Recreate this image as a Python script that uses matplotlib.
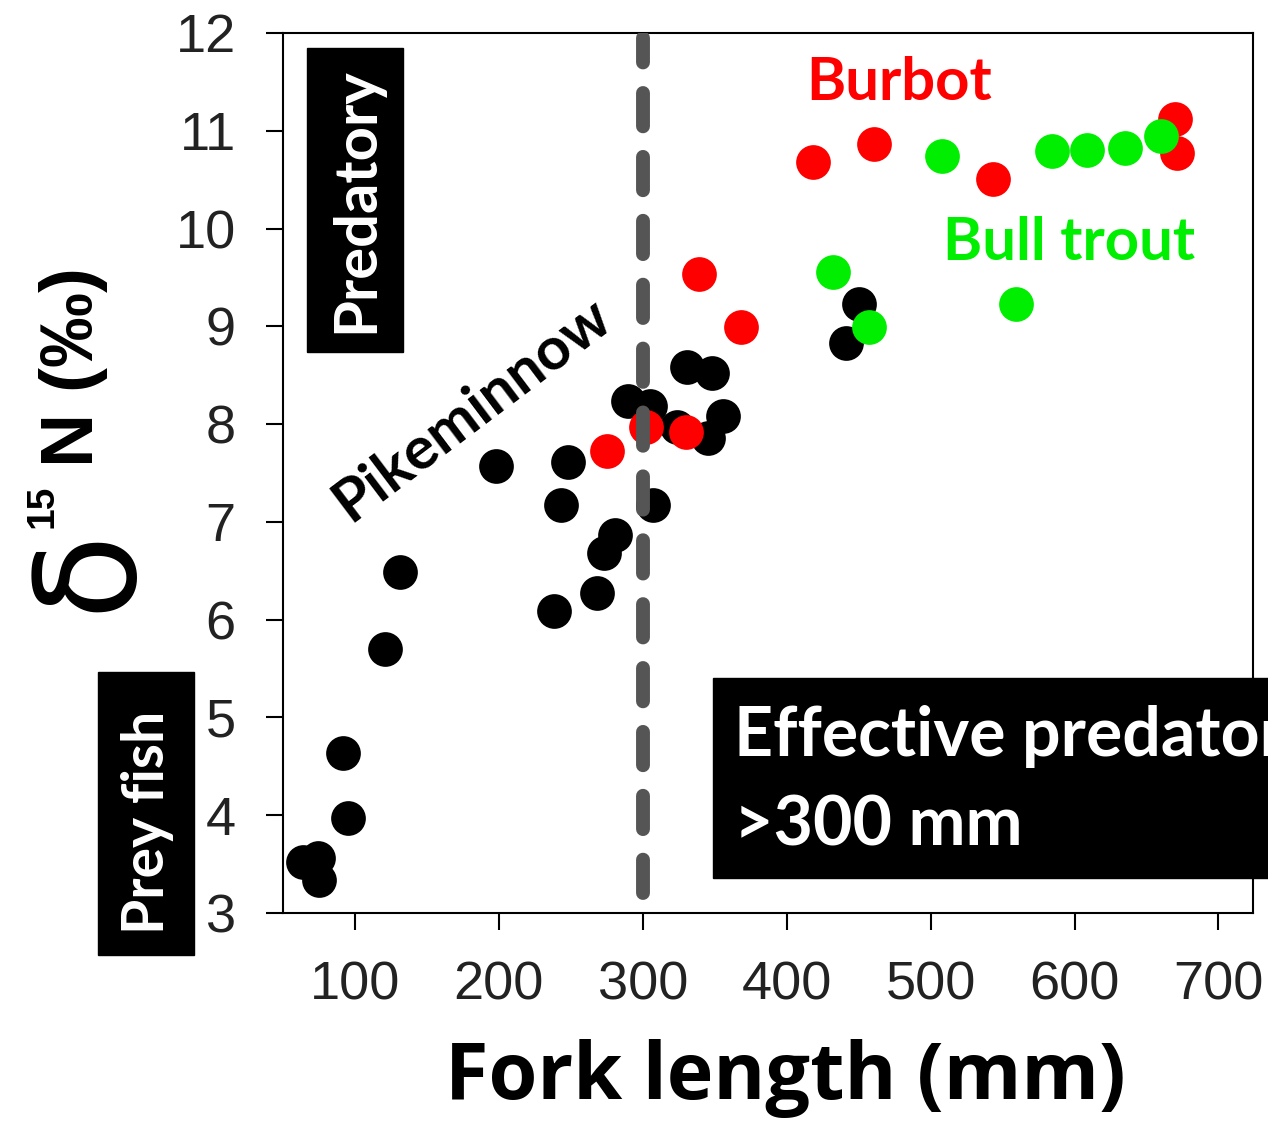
import matplotlib
matplotlib.use("Agg")
import matplotlib.pyplot as plt
from matplotlib.patches import Rectangle

W, H = 1268, 1122

# fork length (mm) and d15N (permil)
pike_x = [64, 74, 75, 92, 95, 121, 131, 198, 238, 243, 248, 268, 273, 281, 290,
          305, 307, 324, 331, 348, 356, 345, 441, 450]
pike_y = [3.52, 3.56, 3.34, 4.64, 3.97, 5.70, 6.49, 7.57, 6.09, 7.17, 7.61, 6.27,
          6.68, 6.87, 8.24, 8.19, 7.17, 7.97, 8.58, 8.52, 8.08, 7.86, 8.83, 9.23]
burbot_x = [275, 302, 330, 339, 368, 418, 461, 543, 670, 671]
burbot_y = [7.72, 7.97, 7.92, 9.54, 8.99, 10.68, 10.86, 10.51, 11.12, 10.77]
trout_x = [432, 457, 508, 559, 584, 609, 635, 660]
trout_y = [9.56, 8.99, 10.74, 9.23, 10.79, 10.80, 10.82, 10.95]

xticks = [100, 200, 300, 400, 500, 600, 700]
yticks = [3, 4, 5, 6, 7, 8, 9, 10, 11, 12]


def fx(x):
    return x / W


def fy(y):
    return 1 - y / H


fig = plt.figure(figsize=(W / 100, H / 100), dpi=100)
ax = fig.add_axes([fx(283), fy(913), fx(1253) - fx(283), fy(33) - fy(913)])

ax.plot(pike_x, pike_y, 'o', color='black', ms=25, mec='none', zorder=3)
ax.plot(burbot_x, burbot_y, 'o', color='#ff0000', ms=25, mec='none', zorder=4)
ax.plot(trout_x, trout_y, 'o', color='#00ee00', ms=25, mec='none', zorder=5)

# 300 mm cut-off
ax.plot([300, 300], [3.2, 11.95], color='#555555', lw=10, dashes=(2.4, 2.2),
        dash_capstyle='round', zorder=6)

ax.set_xlim(50, 724)
ax.set_ylim(3, 12)
ax.set_xticks(xticks)
ax.set_yticks(yticks)
ax.tick_params(direction='out', length=12, width=1.5, labelsize=39, pad=22)
for lab in ax.get_xticklabels() + ax.get_yticklabels():
    lab.set_family('Liberation Sans')
    lab.set_color('#222222')
for s in ax.spines.values():
    s.set_linewidth(1.5)

# y label built from pieces: big thin delta, superscript 15, bold N (permil)
fig.text(fx(128), fy(612), "δ", fontsize=100, family='DejaVu Sans', rotation=90,
         rotation_mode='anchor', ha='left', va='baseline')
fig.text(fx(53), fy(528), "15", fontsize=28, fontweight='bold', family='Liberation Sans',
         rotation=90, rotation_mode='anchor', ha='left', va='baseline')
fig.text(fx(93), fy(467), "N (‰)", fontsize=54, fontweight='bold',
         family=['Liberation Sans', 'DejaVu Sans'], rotation=90,
         rotation_mode='anchor', ha='left', va='baseline')

fig.text(fx(785), fy(1078), "Fork length (mm)", fontsize=57, fontweight='bold',
         family='Open Sans', ha='center', va='center')

# black label boxes
fig.add_artist(Rectangle((fx(307), fy(352)), fx(403) - fx(307), fy(48) - fy(352),
                         transform=fig.transFigure, color='black', zorder=10))
fig.text(fx(356), fy(200), "Predatory", color='white', fontsize=43, fontweight='bold',
         family='Lato', rotation=90, ha='center', va='center', zorder=11)

fig.add_artist(Rectangle((fx(98), fy(955)), fx(194) - fx(98), fy(672) - fy(955),
                         transform=fig.transFigure, color='black', zorder=10))
fig.text(fx(147), fy(822), "Prey fish", color='white', fontsize=41, fontweight='bold',
         family='Lato', rotation=90, ha='center', va='center', zorder=11)

# box runs off the right edge, as in the original slide
fig.add_artist(Rectangle((fx(713), fy(878)), fx(1300) - fx(713), fy(678) - fy(878),
                         transform=fig.transFigure, color='black', zorder=10))
fig.text(fx(734), fy(737), "Effective predator", color='white', fontsize=49,
         fontweight='bold', family='Lato', ha='left', va='center', zorder=11)
fig.text(fx(734), fy(826), ">300 mm", color='white', fontsize=49,
         fontweight='bold', family='Lato', ha='left', va='center', zorder=11)

fig.text(fx(472), fy(410), "Pikeminnow", color='black', fontsize=43, fontweight='bold',
         family='Lato', rotation=37, ha='center', va='center', zorder=11)
fig.text(fx(899), fy(83), "Burbot", color='#ff0000', fontsize=43, fontweight='bold',
         family='Lato', ha='center', va='center', zorder=11)
fig.text(fx(1069), fy(243), "Bull trout", color='#00ee00', fontsize=43, fontweight='bold',
         family='Lato', ha='center', va='center', zorder=11)

fig.savefig("out.png", dpi=100)
